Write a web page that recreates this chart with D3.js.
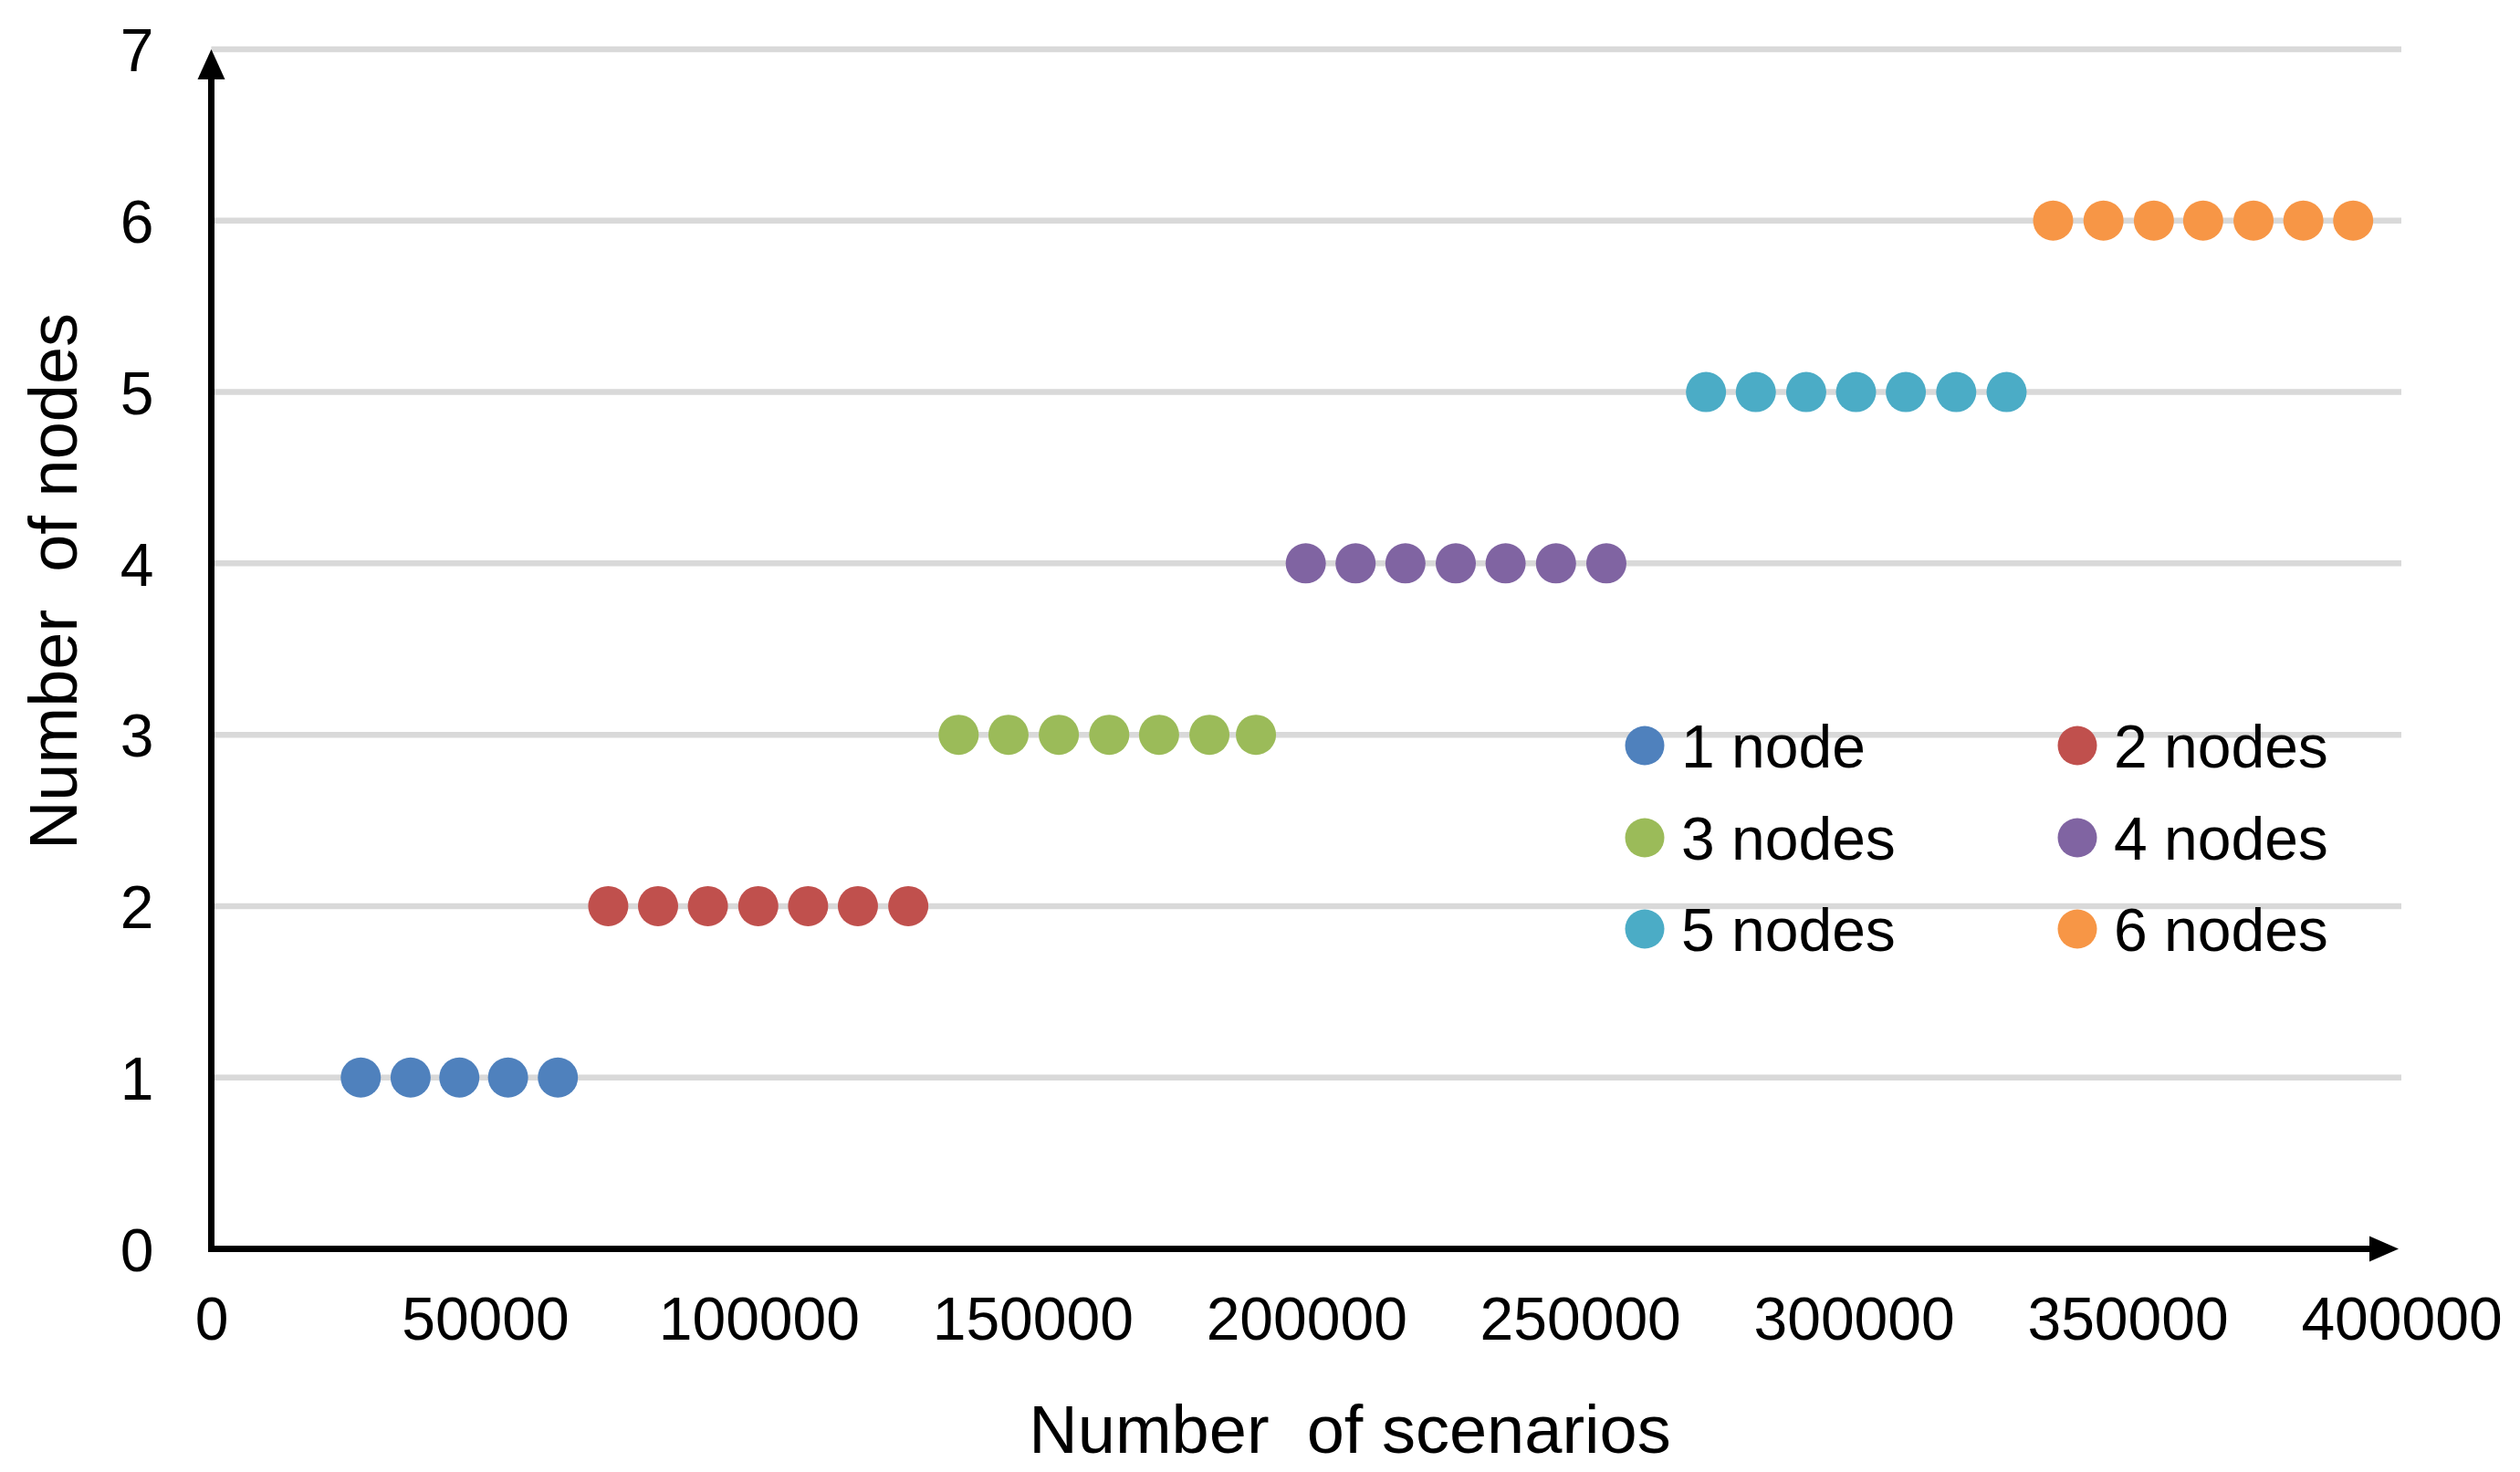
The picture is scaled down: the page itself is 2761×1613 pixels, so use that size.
<!DOCTYPE html>
<html>
<head>
<meta charset="utf-8">
<script src="https://cdn.jsdelivr.net/npm/d3@7"></script>
<style>
  html, body { margin: 0; padding: 0; background: #fff; }
  svg { display: block; font-family: Arial, "Liberation Sans", sans-serif; }
</style>
</head>
<body>
<script>
// ---- data ----
const seriesNames = ["1 node", "2 nodes", "3 nodes", "4 nodes", "5 nodes", "6 nodes"];
const nodeCounts = [1, 2, 3, 4, 5, 6];
const seriesColors = ["#4f81bd", "#c0504d", "#9bbb59", "#8064a2", "#4bacc6", "#f79646"];
const scenarios1 = [27300, 36400, 45300, 54200, 63300];
const scenarios2 = [72500, 81600, 90700, 99900, 109000, 118100, 127300];
const scenarios3 = [136500, 145600, 154800, 164000, 173100, 182300, 190800];
const scenarios4 = [199900, 209000, 218100, 227300, 236400, 245600, 254800];
const scenarios5 = [273000, 282100, 291300, 300400, 309500, 318700, 327900];
const scenarios6 = [336400, 345600, 354800, 363800, 373000, 382100, 391200];
const xTicks = [0, 50000, 100000, 150000, 200000, 250000, 300000, 350000, 400000];
const yTicks = [0, 1, 2, 3, 4, 5, 6, 7];
const xTitle = "Number  of scenarios";
const yTitle = "Number  of nodes";

const allScenarios = [scenarios1, scenarios2, scenarios3, scenarios4, scenarios5, scenarios6];
const series = seriesNames.map((name, i) => ({
  name, color: seriesColors[i],
  points: allScenarios[i].map(s => ({ x: s, y: nodeCounts[i] }))
}));

// ---- layout ----
const W = 2761, H = 1613;
const x0 = 231.5, x1 = 2631, y0 = 1368.5, y1 = 54;
const x = d3.scaleLinear().domain([0, 400000]).range([x0, x1]);
const y = d3.scaleLinear().domain([0, 7]).range([y0, y1]);

const svg = d3.select("body").append("svg").attr("width", W).attr("height", H);

// gridlines
svg.append("g").selectAll("line").data(yTicks.filter(d => d > 0)).join("line")
  .attr("x1", x0).attr("x2", x(400000))
  .attr("y1", d => y(d)).attr("y2", d => y(d))
  .attr("stroke", "#d9d9d9").attr("stroke-width", 6.5);

// y axis labels
const yAxis = svg.append("g").attr("transform", `translate(${x0},0)`)
  .call(d3.axisLeft(y).tickValues(yTicks).tickSize(0).tickPadding(63).tickFormat(d3.format("d")));
yAxis.select(".domain").remove();
yAxis.selectAll("text").attr("font-size", 66).attr("fill", "#000")
  .attr("font-family", "Arial, 'Liberation Sans', sans-serif").attr("dy", "0.36em");

// x axis labels
const xAxis = svg.append("g").attr("transform", `translate(0,${y0})`)
  .call(d3.axisBottom(x).tickValues(xTicks).tickSize(0).tickPadding(52.5).tickFormat(d3.format("d")));
xAxis.select(".domain").remove();
xAxis.selectAll("text").attr("font-size", 66).attr("fill", "#000")
  .attr("font-family", "Arial, 'Liberation Sans', sans-serif");

// axis lines with arrows
const axisG = svg.append("g");
axisG.append("line").attr("x1", x0).attr("x2", x0).attr("y1", y0 + 3.5).attr("y2", y1 + 28)
  .attr("stroke", "#000").attr("stroke-width", 7);
axisG.append("path")
  .attr("d", `M${x0},${y1} L${x0 - 15},${y1 + 33} L${x0 + 15},${y1 + 33} Z`).attr("fill", "#000");
const xEnd = x(400000) - 3;
axisG.append("line").attr("x1", x0 - 3.5).attr("x2", xEnd - 28).attr("y1", y0).attr("y2", y0)
  .attr("stroke", "#000").attr("stroke-width", 7);
axisG.append("path")
  .attr("d", `M${xEnd},${y0} L${xEnd - 32},${y0 - 14} L${xEnd - 32},${y0 + 14} Z`).attr("fill", "#000");

// points
const pg = svg.append("g");
series.forEach(s => {
  pg.append("g").selectAll("circle").data(s.points).join("circle")
    .attr("cx", d => x(d.x)).attr("cy", d => y(d.y)).attr("r", 22)
    .attr("fill", s.color);
});

// axis titles
svg.append("text").attr("x", 1479).attr("y", 1592).attr("text-anchor", "middle")
  .attr("font-size", 74).attr("fill", "#000").style("white-space", "pre").text(xTitle);
svg.append("text").attr("transform", "translate(84,637) rotate(-90)").attr("text-anchor", "middle")
  .attr("font-size", 74).attr("fill", "#000").style("white-space", "pre").text(yTitle);

// legend
const legendX = [1802, 2276];
const legendY = [817, 918, 1018];
const lg = svg.append("g");
series.forEach((s, i) => {
  const cx = legendX[i % 2], cy = legendY[Math.floor(i / 2)];
  lg.append("circle").attr("cx", cx).attr("cy", cy).attr("r", 21.5).attr("fill", s.color);
  lg.append("text").attr("x", cx + 40).attr("y", cy + 24).attr("font-size", 66)
    .attr("fill", "#000").text(s.name);
});
</script>
</body>
</html>
